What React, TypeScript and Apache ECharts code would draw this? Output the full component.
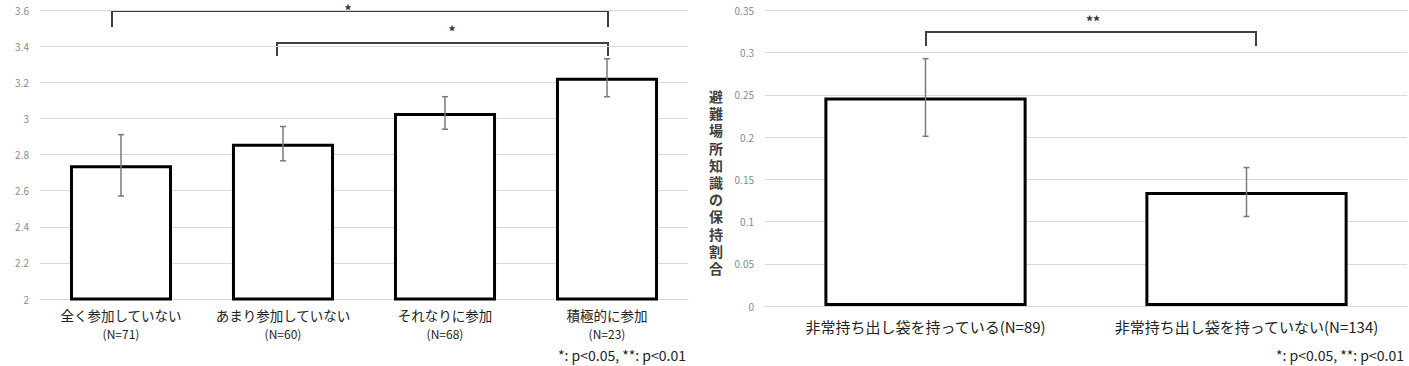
import React, { useEffect, useRef } from "react";
import * as echarts from "echarts";

const leftCategories = ["全く参加していない", "あまり参加していない", "それなりに参加", "積極的に参加"];
const leftN = ["(N=71)", "(N=60)", "(N=68)", "(N=23)"];
const leftMeans = [2.74, 2.86, 3.03, 3.225];
const leftErr = [0.17, 0.095, 0.09, 0.105];
const leftTicks = { min: 2, max: 3.6, interval: 0.2 };

const rightCategories = ["非常持ち出し袋を持っている(N=89)", "非常持ち出し袋を持っていない(N=134)"];
const rightMeans = [0.247, 0.135];
const rightErr = [0.046, 0.029];
const rightTicks = { min: 0, max: 0.35, interval: 0.05 };

const rightTitle = "避難場所知識の保持割合";
const footnote = "*: p<0.05, **: p<0.01";

const FONT = '"Noto Sans CJK JP", "Noto Sans", sans-serif';

function errRender(params: any, api: any) {
  const x = api.value(0);
  const lo = api.coord([x, api.value(1)]);
  const hi = api.coord([x, api.value(2)]);
  const cap = 3;
  const style = { stroke: "#7a7a7a", lineWidth: 1.5 };
  return {
    type: "group",
    children: [
      { type: "line", shape: { x1: lo[0], y1: lo[1], x2: hi[0], y2: hi[1] }, style },
      { type: "line", shape: { x1: lo[0] - cap, y1: lo[1], x2: lo[0] + cap, y2: lo[1] }, style },
      { type: "line", shape: { x1: hi[0] - cap, y1: hi[1], x2: hi[0] + cap, y2: hi[1] }, style },
    ],
  };
}

function bracket(x1: number, x2: number, y: number, yEnd: number) {
  return {
    type: "polyline",
    shape: { points: [[x1, yEnd], [x1, y], [x2, y], [x2, yEnd]] },
    style: { stroke: "#404040", lineWidth: 2, fill: "none" },
    silent: true,
  };
}

function star(x: number, y: number, t: string) {
  return {
    type: "text",
    x,
    y,
    style: {
      text: t,
      fill: "#333",
      font: `bold 14px ${FONT}`,
      lineHeight: 12,
      align: "center",
      verticalAlign: "middle",
    },
    silent: true,
  };
}

export default function App() {
  const ref = useRef<HTMLDivElement>(null);
  useEffect(() => {
    if (!ref.current) return;
    const chart = echarts.init(ref.current, undefined, { renderer: "svg" });
    const barStyle = { color: "#ffffff", borderColor: "#000000", borderWidth: 3 };
    const axisLabelY = { color: "#8a8a8a", fontSize: 10, fontFamily: FONT, margin: 11 };
    const titleChars = rightTitle.split("").map((ch, i) => ({
      type: "text",
      x: 716,
      y: 96 + i * 17.2,
      style: {
        text: ch,
        fill: "#404040",
        font: `bold 14px ${FONT}`,
        lineHeight: 15,
        align: "center",
        verticalAlign: "middle",
      },
      silent: true,
    }));
    chart.setOption({
      animation: false,
      backgroundColor: "#ffffff",
      grid: [
        { left: 40, right: 721, top: 10, bottom: 67 },
        { left: 765, right: 2, top: 10.5, bottom: 60 },
      ],
      xAxis: [
        {
          type: "category",
          gridIndex: 0,
          data: leftCategories.map((c, i) => `{a|${c}}\n{b|${leftN[i]}}`),
          axisTick: { show: false },
          axisLine: { lineStyle: { color: "#d9d9d9", width: 1 } },
          axisLabel: {
            margin: 7,
            interval: 0,
            rich: {
              a: { fontSize: 13.5, color: "#222", fontFamily: FONT, lineHeight: 18 },
              b: { fontSize: 12, color: "#222", fontFamily: FONT, lineHeight: 18 },
            },
          },
        },
        {
          type: "category",
          gridIndex: 1,
          data: rightCategories,
          axisTick: { show: false },
          axisLine: { lineStyle: { color: "#d9d9d9", width: 1 } },
          axisLabel: { margin: 13, interval: 0, fontSize: 15, color: "#222", fontFamily: FONT },
        },
      ],
      yAxis: [
        {
          type: "value",
          gridIndex: 0,
          min: leftTicks.min,
          max: leftTicks.max,
          interval: leftTicks.interval,
          axisLine: { show: false },
          axisTick: { show: false },
          splitLine: { lineStyle: { color: "#d9d9d9", width: 1 } },
          axisLabel: { ...axisLabelY, formatter: (v: number) => String(Math.round(v * 10) / 10) },
        },
        {
          type: "value",
          gridIndex: 1,
          min: rightTicks.min,
          max: rightTicks.max,
          interval: rightTicks.interval,
          axisLine: { show: false },
          axisTick: { show: false },
          splitLine: { lineStyle: { color: "#d9d9d9", width: 1 } },
          axisLabel: { ...axisLabelY, formatter: (v: number) => String(Math.round(v * 100) / 100) },
        },
      ],
      series: [
        {
          type: "bar",
          xAxisIndex: 0,
          yAxisIndex: 0,
          data: leftMeans,
          barWidth: "63%",
          itemStyle: barStyle,
          silent: true,
        },
        {
          type: "custom",
          xAxisIndex: 0,
          yAxisIndex: 0,
          renderItem: errRender,
          data: leftMeans.map((m, i) => [i, m - leftErr[i], m + leftErr[i]]),
          encode: { x: 0, y: [1, 2] },
          z: 5,
          silent: true,
        },
        {
          type: "bar",
          xAxisIndex: 1,
          yAxisIndex: 1,
          data: rightMeans,
          barWidth: "63%",
          itemStyle: barStyle,
          silent: true,
        },
        {
          type: "custom",
          xAxisIndex: 1,
          yAxisIndex: 1,
          renderItem: errRender,
          data: rightMeans.map((m, i) => [i, m - rightErr[i], m + rightErr[i]]),
          encode: { x: 0, y: [1, 2] },
          z: 5,
          silent: true,
        },
      ],
      graphic: [
        bracket(112, 608, 11, 27),
        star(348, 10, "*"),
        bracket(277, 608, 43, 56),
        star(452, 31, "*"),
        bracket(926, 1256, 32, 46),
        star(1093, 21, "**"),
        ...titleChars,
        {
          type: "text",
          right: 1409 - 686,
          top: 348,
          style: { text: footnote, fill: "#222", font: `14px ${FONT}` },
          silent: true,
        },
        {
          type: "text",
          right: 5,
          top: 348,
          style: { text: footnote, fill: "#222", font: `14px ${FONT}` },
          silent: true,
        },
      ],
    });
    return () => chart.dispose();
  }, []);
  return (
    <div
      ref={ref}
      style={{ position: "absolute", left: 0, top: 0, width: 1409, height: 366, background: "#fff" }}
    />
  );
}
